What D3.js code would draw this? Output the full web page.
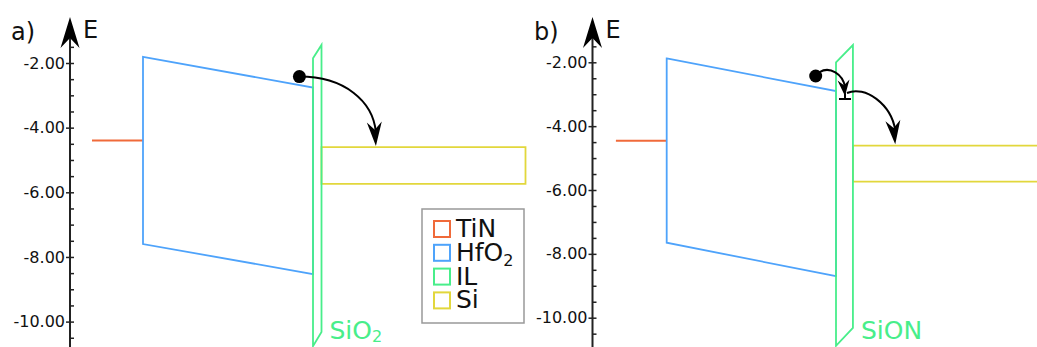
<!DOCTYPE html>
<html>
<head>
<meta charset="utf-8">
<script src="https://cdn.jsdelivr.net/npm/d3@7"></script>
<style>
  body { margin: 0; background: #fff; }
  svg { display: block; font-family: "DejaVu Sans", sans-serif; }
</style>
</head>
<body>
<svg width="1037" height="347"></svg>
<script>
// band diagram data, one entry per panel (a, b)
var panels = ["a)", "b)"];
var ilNames = ["SiO", "SiON"];
var ilSub = ["2", ""];
var majorTicks = [-2, -4, -6, -8, -10];
var minorTicks = [-1.5, -2, -2.5, -3, -3.5, -4, -4.5, -5, -5.5, -6, -6.5, -7, -7.5, -8, -8.5, -9, -9.5, -10, -10.5];

var tinLevel = [-4.4, -4.46];
var tinX = [-0.3, 0];
var hfo2X = [0, 1];
var hfo2CB = [[-1.81, -2.76], [-1.88, -2.9]];   // left, right
var hfo2VB = [[-7.6, -8.53], [-7.65, -8.7]];
var ilX = [[1, 1.05], [1, 1.1]];
var ilCB = [[-1.85, -1.44], [-2.0, -1.46]];
var ilVB = [[-10.76, -10.32], [-10.88, -10.32]];
var siX = [[1.05, 2.25], [1.1, 2.4]];
var siCB = [-4.6, -4.61];
var siVB = [-5.74, -5.74];
var electron = [[0.92, -2.42], [0.88, -2.43]];
var trap = [null, [1.053, -3.15]];
var target = [[1.37, -4.6], [1.35, -4.6]];

var legendNames = ["TiN", "HfO", "IL", "Si"];
var legendSub = ["", "2", "", ""];

var colors = { TiN: "#f06a3a", HfO2: "#4ea3fb", IL: "#48ee8a", Si: "#e2d73c" };
var legendColors = [colors.TiN, colors.HfO2, colors.IL, colors.Si];

// layout of each panel
var layout = [
  { axisX: 70, xRange: [143, 313], yRange: [63, 321.6], labelX: 11 },
  { axisX: 592.5, xRange: [666.7, 836], yRange: [62.3, 317.7], labelX: 534 }
];

var svg = d3.select("svg");

function arrowHead(g, tip, from, len, half) {
  var ang = Math.atan2(tip[1] - from[1], tip[0] - from[0]) * 180 / Math.PI;
  g.append("path")
    .attr("d", "M0,0 L" + (-len) + "," + (-half) + " L" + (-len * 0.68) + ",0 L" + (-len) + "," + half + "Z")
    .attr("fill", "#000")
    .attr("transform", "translate(" + tip[0] + "," + tip[1] + ")rotate(" + ang + ")");
}

panels.forEach(function(name, i) {
  var L = layout[i];
  var x = d3.scaleLinear().domain([0, 1]).range(L.xRange);
  var y = d3.scaleLinear().domain([-2, -10]).range(L.yRange);
  var g = svg.append("g");

  // axis line and arrow
  g.append("line")
    .attr("x1", L.axisX).attr("x2", L.axisX)
    .attr("y1", 36).attr("y2", 347)
    .attr("stroke", "#222").attr("stroke-width", 2);
  g.append("path")
    .attr("d", "M" + L.axisX + ",17 L" + (L.axisX + 9.5) + ",48 L" + L.axisX + ",38 L" + (L.axisX - 9.5) + ",48Z")
    .attr("fill", "#000");

  // minor ticks (right side)
  var minor = g.append("g")
    .attr("transform", "translate(" + L.axisX + ",0)")
    .call(d3.axisRight(y).tickValues(minorTicks).tickSize(4).tickFormat(""));
  minor.select(".domain").remove();
  minor.selectAll("line").attr("stroke", "#222").attr("stroke-width", 1.5);

  // major ticks with labels
  var major = g.append("g")
    .attr("transform", "translate(" + L.axisX + ",0)")
    .call(d3.axisLeft(y).tickValues(majorTicks).tickSize(4).tickPadding(1)
      .tickFormat(function(d) { return d.toFixed(2); }));
  major.select(".domain").remove();
  major.selectAll("line").attr("stroke", "#222").attr("stroke-width", 1.5);
  major.selectAll("text")
    .attr("font-family", "DejaVu Sans").attr("font-size", 16).attr("fill", "#111");

  // panel label and E
  g.append("text").attr("x", L.labelX).attr("y", 40)
    .attr("font-size", 24).attr("fill", "#111").text(name);
  g.append("text").attr("x", L.axisX + 13).attr("y", 38)
    .attr("font-size", 24).attr("fill", "#111").text("E");

  // TiN
  g.append("line")
    .attr("x1", x(tinX[0])).attr("x2", x(tinX[1]))
    .attr("y1", y(tinLevel[i])).attr("y2", y(tinLevel[i]))
    .attr("stroke", colors.TiN).attr("stroke-width", 2);

  // HfO2
  g.append("path")
    .attr("d", d3.line()([
      [x(hfo2X[0]), y(hfo2CB[i][0])], [x(hfo2X[1]), y(hfo2CB[i][1])],
      [x(hfo2X[1]), y(hfo2VB[i][1])], [x(hfo2X[0]), y(hfo2VB[i][0])]
    ]) + "Z")
    .attr("fill", "none").attr("stroke", colors.HfO2).attr("stroke-width", 1.8);

  // Si
  g.append("path")
    .attr("d", d3.line()([
      [x(siX[i][0]), y(siCB[i])], [x(siX[i][1]), y(siCB[i])],
      [x(siX[i][1]), y(siVB[i])], [x(siX[i][0]), y(siVB[i])]
    ]) + "Z")
    .attr("fill", "none").attr("stroke", colors.Si).attr("stroke-width", 1.8);

  // IL
  g.append("path")
    .attr("d", d3.line()([
      [x(ilX[i][0]), y(ilCB[i][0])], [x(ilX[i][1]), y(ilCB[i][1])],
      [x(ilX[i][1]), y(ilVB[i][1])], [x(ilX[i][0]), y(ilVB[i][0])]
    ]) + "Z")
    .attr("fill", "none").attr("stroke", colors.IL).attr("stroke-width", 1.8);

  var il = g.append("text")
    .attr("x", x(ilX[i][1]) + 8).attr("y", 339)
    .attr("font-size", 25).attr("fill", colors.IL).text(ilNames[i]);
  if (ilSub[i]) il.append("tspan").attr("font-size", 16).attr("dy", 3).text(ilSub[i]);

  // electron
  var e = [x(electron[i][0]), y(electron[i][1])];
  g.append("circle").attr("cx", e[0]).attr("cy", e[1]).attr("r", 6.5).attr("fill", "#000");

  var t = [x(target[i][0]), y(target[i][1]) - 1];
  if (!trap[i]) {
    var c2 = [t[0] - 3, t[1] - 45];
    g.append("path")
      .attr("d", "M" + e[0] + "," + e[1] + " C" + (e[0] + 45) + "," + e[1] + " " + c2 + " " + t[0] + "," + (t[1] - 14))
      .attr("fill", "none").attr("stroke", "#000").attr("stroke-width", 2);
    arrowHead(g, t, c2, 24, 7.5);
  } else {
    var tp = [x(trap[i][0]), y(trap[i][1])];
    // trap marker
    g.append("line").attr("x1", tp[0] - 6).attr("x2", tp[0] + 6)
      .attr("y1", tp[1]).attr("y2", tp[1]).attr("stroke", "#000").attr("stroke-width", 2);
    g.append("line").attr("x1", tp[0]).attr("x2", tp[0])
      .attr("y1", tp[1]).attr("y2", tp[1] - 6).attr("stroke", "#000").attr("stroke-width", 2);
    // electron -> trap
    var t1 = [tp[0], tp[1] - 3];
    var k1 = [t1[0] - 2, t1[1] - 22];
    g.append("path")
      .attr("d", "M" + (e[0] + 4) + "," + (e[1] - 4) + " C" + (e[0] + 14) + "," + (e[1] - 10) + " " + k1 + " " + t1[0] + "," + (t1[1] - 9))
      .attr("fill", "none").attr("stroke", "#000").attr("stroke-width", 2);
    arrowHead(g, t1, k1, 16, 6);
    // trap -> Si
    var s = [tp[0] + 2, tp[1] - 6];
    var k2 = [t[0] - 4, t[1] - 40];
    g.append("path")
      .attr("d", "M" + s[0] + "," + s[1] + " C" + (s[0] + 18) + "," + (s[1] - 8) + " " + k2 + " " + t[0] + "," + (t[1] - 14))
      .attr("fill", "none").attr("stroke", "#000").attr("stroke-width", 2);
    arrowHead(g, t, k2, 24, 7.5);
  }
});

// legend
var lg = svg.append("g").attr("transform", "translate(422,209)");
lg.append("rect").attr("width", 102).attr("height", 114)
  .attr("fill", "#fff").attr("stroke", "#999").attr("stroke-width", 1.5);
var row = lg.selectAll("g.row").data(legendNames).enter().append("g")
  .attr("transform", function(d, j) { return "translate(12," + (12 + j * 23.8) + ")"; });
row.append("rect").attr("width", 16).attr("height", 16)
  .attr("fill", "#fff").attr("stroke", function(d, j) { return legendColors[j]; }).attr("stroke-width", 2);
var lt = row.append("text").attr("x", 22).attr("y", 16)
  .attr("font-size", 25).attr("fill", "#111").text(function(d) { return d; });
lt.filter(function(d, j) { return legendSub[j]; })
  .append("tspan").attr("font-size", 16).attr("dy", 5)
  .text(function(d) { return legendSub[legendNames.indexOf(d)]; });
</script>
</body>
</html>
